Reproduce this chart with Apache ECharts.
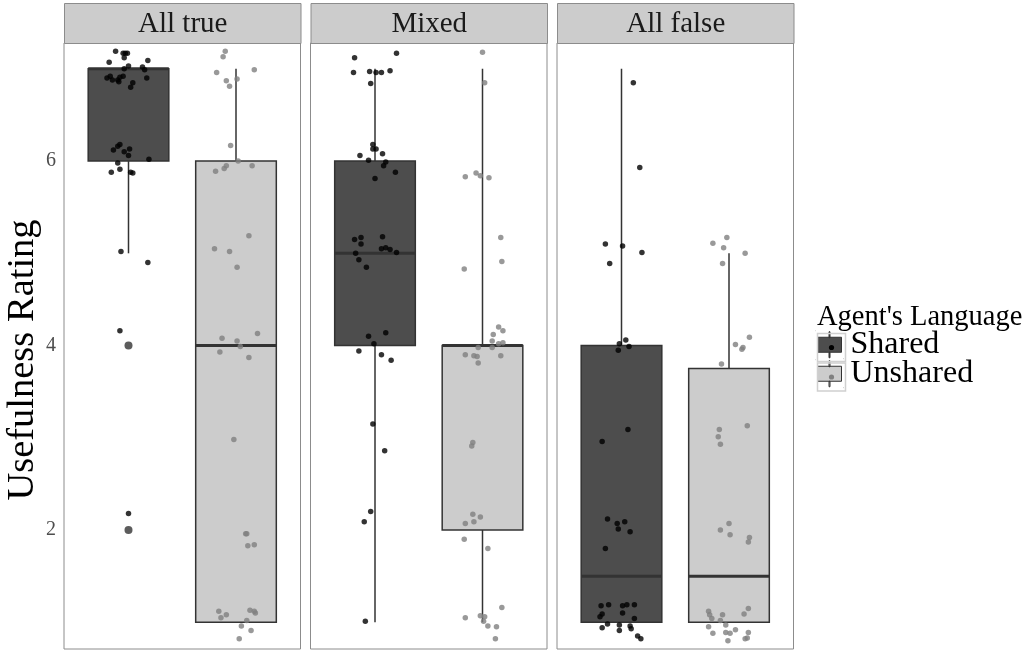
<!DOCTYPE html>
<html>
<head>
<meta charset="utf-8">
<script src="https://cdn.jsdelivr.net/npm/echarts@6/dist/echarts.min.js"></script>
<style>
  html, body { margin: 0; padding: 0; background: #fff; }
  #chart { width: 1035px; height: 651px; }
</style>
</head>
<body>
<div id="chart"></div>
<script>
const facets = ['All true', 'Mixed', 'All false'];
const groups = ['Shared', 'Unshared'];
const yTicks = [2, 4, 6];

// box stats per facet: [min, q1, median, q3, max]
const sharedBox = [[5, 6, 7, 7, 7], [1, 4, 5, 6, 7], [1, 1, 1.5, 4, 7]];
const unsharedBox = [[1, 1, 4, 6, 7], [1, 2, 4, 4, 7], [1, 1, 1.5, 3.75, 5]];
const sharedOutliers = [[4, 2], [], []];

// jittered ratings [x position, rating]
const sharedPoints = [
  [[0.88,7.19],[0.95,7.17],[0.97,7.17],[0.99,7.17],[0.96,7.12],[0.82,7.07],[1.18,7.09],[0.96,7.00],[1.00,7.03],
   [1.13,7.02],[1.15,6.99],[0.80,6.90],[0.83,6.92],[0.85,6.88],[0.90,6.88],[0.92,6.91],[0.95,6.92],[0.91,6.86],
   [1.04,6.85],[1.02,6.80],[1.17,6.90],[0.90,6.16],[0.92,6.18],[0.86,6.12],[0.96,6.10],[1.01,6.13],[1.00,6.06],
   [1.19,6.02],[0.90,5.98],[0.84,5.88],[0.92,5.91],[1.02,5.88],[1.04,5.87],[0.93,5.02],[1.18,4.90],[0.92,4.16],
   [1.00,2.18]],
  [[0.81,7.12],[1.20,7.17],[0.80,6.96],[0.95,6.97],[1.01,6.96],[1.06,6.96],[1.14,6.98],[0.96,6.84],[0.98,6.18],
   [0.98,6.13],[1.01,6.13],[1.07,6.08],[0.86,6.06],[0.94,6.01],[1.10,5.99],[1.08,5.95],[1.19,5.88],[1.00,5.81],
   [0.81,5.15],[0.87,5.17],[0.87,5.10],[1.07,5.18],[1.06,5.05],[1.10,5.06],[1.14,5.04],[1.20,5.01],[0.82,5.00],
   [0.85,4.93],[0.92,4.85],[0.94,4.10],[1.10,4.14],[0.99,4.02],[0.85,3.94],[1.06,3.90],[1.15,3.84],[0.98,3.15],
   [1.09,2.86],[0.96,2.20],[0.90,2.09],[0.91,1.01]],
  [[1.11,6.85],[1.17,5.93],[0.85,5.10],[1.01,5.08],[1.19,5.01],[0.89,4.89],[1.04,4.06],[0.98,4.02],[1.07,3.99],
   [0.97,3.95],[1.06,3.09],[0.82,2.96],[0.87,2.12],[0.96,2.07],[1.03,2.09],[0.97,2.01],[1.08,1.98],[0.85,1.80],
   [0.81,1.18],[0.88,1.19],[1.01,1.18],[1.05,1.19],[1.12,1.19],[0.82,1.09],[0.80,1.06],[1.01,1.10],[1.12,1.04],
   [0.82,0.94],[0.87,0.98],[0.98,0.97],[1.08,0.96],[0.98,0.91],[1.09,0.93],[1.15,0.85],[1.18,0.82]]
];
const unsharedPoints = [
  [[1.90,7.19],[1.88,7.13],[1.82,6.96],[2.17,6.99],[1.91,6.87],[1.94,6.81],[2.01,6.89],[1.95,6.17],[2.02,6.00],
   [1.91,5.95],[1.89,5.92],[1.81,5.89],[2.15,5.95],[2.12,5.19],[1.80,5.05],[1.94,5.02],[2.01,4.85],[1.87,4.08],
   [2.01,4.05],[2.20,4.13],[2.04,3.99],[1.85,3.93],[2.12,3.87],[1.98,2.98],[2.09,1.96],[2.10,1.96],[2.11,1.83],
   [2.17,1.84],[1.84,1.12],[1.91,1.08],[1.86,1.05],[2.13,1.13],[2.17,1.12],[2.18,1.10],[2.10,1.02],[2.05,0.96],
   [2.14,0.91],[2.03,0.82]],
  [[2.00,7.18],[2.02,6.85],[1.84,5.83],[1.94,5.87],[1.98,5.84],[2.06,5.82],[2.17,5.17],[1.83,4.83],[2.18,4.91],
   [2.15,4.20],[2.19,4.16],[2.10,4.12],[2.09,4.05],[2.15,4.02],[2.19,4.03],[1.96,3.98],[2.09,3.98],[1.84,3.90],
   [1.92,3.89],[1.95,3.88],[2.17,3.89],[1.96,3.81],[1.91,2.95],[1.90,2.91],[1.91,2.17],[1.98,2.14],[1.92,2.09],
   [1.84,2.07],[1.83,1.90],[2.05,1.80],[2.18,1.16],[1.84,1.05],[1.98,1.07],[2.02,1.06],[2.01,1.01],[2.05,0.96],
   [2.13,0.95],[2.12,0.82]],
  [[1.85,5.11],[1.98,5.17],[1.95,5.06],[2.15,5.00],[1.94,4.89],[2.19,4.09],[2.06,4.01],[2.12,3.96],[2.13,3.98],
   [1.93,3.80],[1.91,3.09],[1.90,3.01],[1.92,2.93],[2.17,3.13],[1.92,2.00],[2.00,2.07],[2.01,1.95],[2.19,1.92],
   [2.18,1.87],[1.81,1.12],[1.82,1.08],[1.84,1.04],[1.94,1.08],[1.92,1.02],[2.18,1.15],[2.14,1.09],[1.81,0.95],
   [1.85,0.88],[1.97,0.97],[1.97,0.89],[2.01,0.88],[2.06,0.92],[1.99,0.80],[2.18,0.89],[2.17,0.83],[2.15,0.82]]
];

const serif = '"Liberation Serif", "Times New Roman", serif';
const gridLeft = [64, 310.5, 557];
const gridW = 236.5;
const boxFill = ['#4D4D4D', '#CCCCCC'];
const pointColor = ['#000000', '#808080'];

function renderBox(params, api) {
    const x = api.value(0);
    const lo = api.coord([x, api.value(1)]);
    const q1 = api.coord([x, api.value(2)]);
    const med = api.coord([x, api.value(3)]);
    const q3 = api.coord([x, api.value(4)]);
    const hi = api.coord([x, api.value(5)]);
    const w = api.size([0.75, 0])[0];
    const line = {stroke: '#333333', lineWidth: 1.5};
    return {
        type: 'group',
        children: [
            {type: 'line', shape: {x1: lo[0], y1: lo[1], x2: q1[0], y2: q1[1]}, style: line},
            {type: 'line', shape: {x1: q3[0], y1: q3[1], x2: hi[0], y2: hi[1]}, style: line},
            {type: 'rect', shape: {x: q3[0] - w / 2, y: q3[1], width: w, height: q1[1] - q3[1]},
                style: {fill: api.visual('color'), stroke: '#333333', lineWidth: 1.5}},
            {type: 'line', shape: {x1: med[0] - w / 2, y1: med[1], x2: med[0] + w / 2, y2: med[1]},
                style: {stroke: '#333333', lineWidth: 3}}
        ]
    };
}

const grids = [], xAxes = [], yAxes = [], series = [], graphics = [];
facets.forEach((name, i) => {
    grids.push({left: gridLeft[i], width: gridW, top: 43, height: 606, show: true, outerBoundsMode: 'none',
        containLabel: false, backgroundColor: '#ffffff', borderColor: '#8C8C8C', borderWidth: 1});
    xAxes.push({type: 'value', gridIndex: i, min: 0.4, max: 2.6,
        axisLine: {show: false}, axisTick: {show: false}, axisLabel: {show: false}, splitLine: {show: false}});
    yAxes.push({type: 'value', gridIndex: i, min: 0.71, max: 7.28,
        name: i === 0 ? 'Usefulness Rating' : '', nameLocation: 'middle', nameGap: 18,
        nameTextStyle: {fontFamily: serif, fontSize: 38.5, color: '#000', padding: [0, 28, 0, 0]},
        axisLine: {show: false}, axisTick: {show: false}, splitLine: {show: false},
        axisLabel: {show: i === 0, customValues: yTicks, margin: 8,
            fontFamily: serif, fontSize: 20, color: '#4D4D4D'}});

    [sharedBox[i], unsharedBox[i]].forEach((b, g) => {
        series.push({type: 'custom', name: groups[g], xAxisIndex: i, yAxisIndex: i, z: 2,
            itemStyle: {color: boxFill[g]}, renderItem: renderBox,
            encode: {x: 0, y: [1, 2, 3, 4, 5]},
            data: [[g + 1].concat(b)]});
    });
    series.push({type: 'scatter', name: 'outliers', xAxisIndex: i, yAxisIndex: i, z: 3,
        symbolSize: 8, itemStyle: {color: '#333333'}, silent: true,
        data: sharedOutliers[i].map(v => [1, v])});
    [sharedPoints[i], unsharedPoints[i]].forEach((pts, g) => {
        series.push({type: 'scatter', name: groups[g] + ' ratings', xAxisIndex: i, yAxisIndex: i, z: 4,
            symbolSize: 5.5, itemStyle: {color: pointColor[g]}, data: pts});
    });

    graphics.push({type: 'group', left: gridLeft[i], top: 3, children: [
        {type: 'rect', shape: {x: 0, y: 0, width: gridW, height: 40},
            style: {fill: '#CCCCCC', stroke: '#8C8C8C', lineWidth: 1}},
        {type: 'text', x: gridW / 2, y: 21,
            style: {text: name, font: '29px ' + serif, fill: '#1A1A1A', align: 'center', verticalAlign: 'middle'}}
    ]});
});

// legend key frames and centre dots (ggplot key look)
const keySize = 28, keyTop = 331, keyStep = 29.5, keyLeft = 815, legendTextH = 32.5;
groups.forEach((g, k) => {
    graphics.push({type: 'group', left: keyLeft, top: keyTop + k * keyStep, z: 100, silent: true, children: [
        {type: 'rect', z: 100, shape: {x: 0, y: 0, width: keySize, height: keySize},
            style: {fill: 'none', stroke: '#D0D0D0', lineWidth: 1.5}},
        {type: 'circle', z: 101, shape: {cx: keySize / 2, cy: keySize / 2, r: 2.6}, style: {fill: pointColor[k]}}
    ]});
});

const keyIcon = 'path://M0,0h0.05v0.05h-0.05z M27.95,27.95h0.05v0.05h-0.05z ' +
    'M13.5,1h1v6h-1z M2,6.5h24v15h-24z M13.5,21.5h1v5.5h-1z';

const chart = echarts.init(document.getElementById('chart'));
chart.setOption({
    backgroundColor: '#ffffff',
    animation: false,
    title: {text: "Agent's Language", left: 812, top: 298,
        textStyle: {fontFamily: serif, fontSize: 28.5, fontWeight: 'normal', color: '#000'}},
    legend: {
        orient: 'vertical', left: keyLeft, top: keyTop + keySize / 2 - legendTextH / 2, padding: 0, z: 50,
        itemWidth: keySize, itemHeight: keySize, itemGap: keyStep - legendTextH,
        textStyle: {fontFamily: serif, fontSize: 32, color: '#000', padding: [0, 0, 0, 2]},
        data: groups.map((g, k) => ({name: g, icon: keyIcon,
            itemStyle: {color: boxFill[k], borderColor: '#333333', borderWidth: 1}}))
    },
    grid: grids,
    xAxis: xAxes,
    yAxis: yAxes,
    graphic: graphics,
    series: series
});
</script>
</body>
</html>
